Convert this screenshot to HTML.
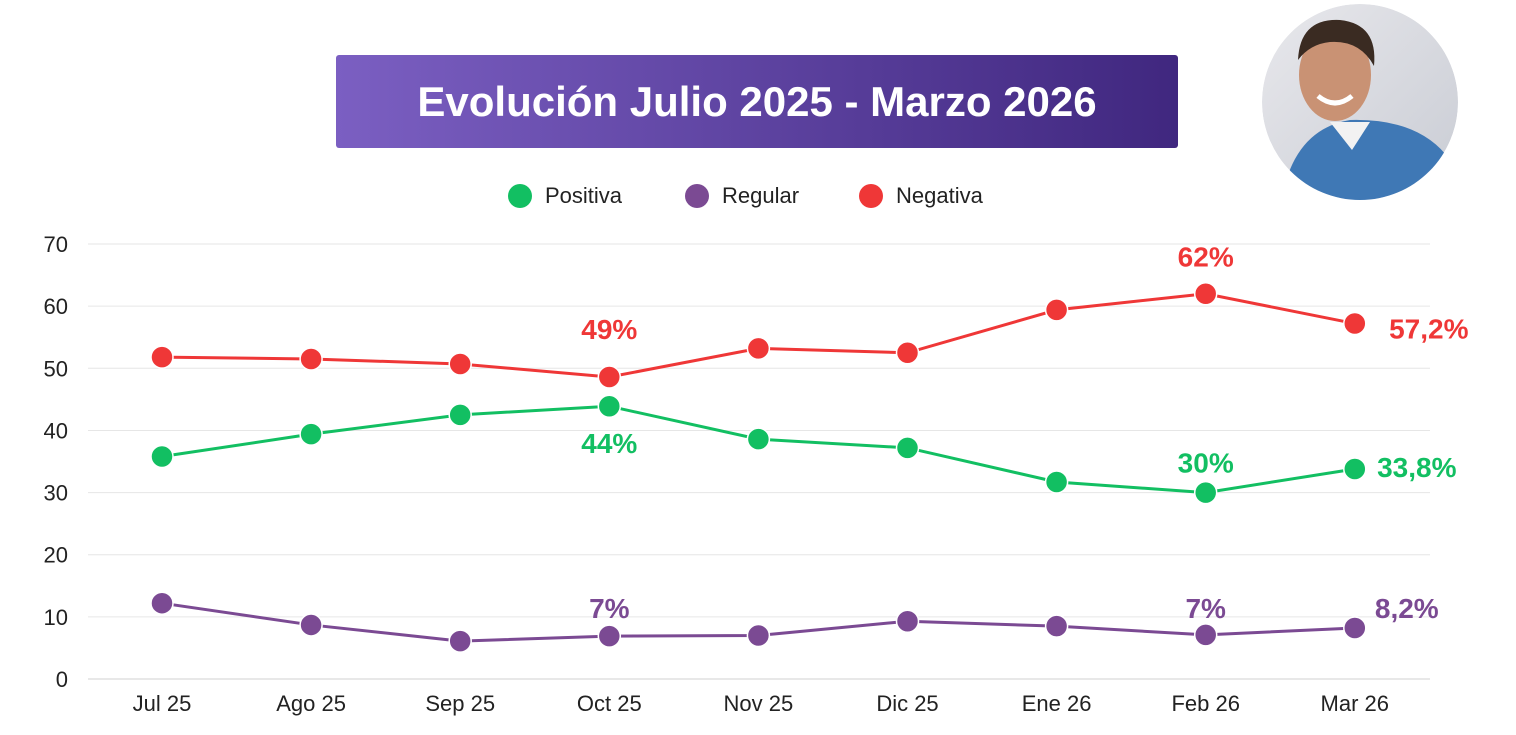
<!DOCTYPE html>
<html><head><meta charset="utf-8"><style>
body{margin:0;background:#fff;width:1516px;height:735px;overflow:hidden;font-family:"Liberation Sans",sans-serif}
svg{display:block}
</style></head><body>
<svg width="1516" height="735">
<defs>
<linearGradient id="tg" x1="0" x2="1"><stop offset="0" stop-color="#7b5fc2"/><stop offset="1" stop-color="#40277f"/></linearGradient>
<linearGradient id="bg" x1="0" y1="0" x2="1" y2="1"><stop offset="0" stop-color="#e8e8ec"/><stop offset="1" stop-color="#c9ccd4"/></linearGradient>
<clipPath id="cp"><circle cx="1360" cy="102" r="98"/></clipPath>
</defs>
<rect x="336" y="55" width="842" height="93" rx="3" fill="url(#tg)"/>
<text x="757" y="116" text-anchor="middle" fill="#fff" font-size="42" font-weight="bold">Evolución Julio 2025 - Marzo 2026</text>
<g clip-path="url(#cp)">
<circle cx="1360" cy="102" r="98" fill="url(#bg)"/>
<path d="M1280 210 Q1290 130 1350 120 Q1420 118 1450 160 L1460 210Z" fill="#3f78b5"/>
<path d="M1330 122 L1352 150 L1370 122Z" fill="#f2f2f2"/>
<ellipse cx="1335" cy="75" rx="36" ry="46" fill="#c99274"/>
<path d="M1298 60 Q1300 18 1340 20 Q1378 24 1374 66 Q1360 40 1330 42 Q1310 44 1298 60Z" fill="#3a2b22"/>
<path d="M1318 96 Q1335 110 1352 96" stroke="#fff" stroke-width="5" fill="none"/>
</g>
<g id="legend" font-size="22" fill="#222">
<circle cx="520" cy="196" r="12" fill="#12bf62"/>
<text x="545" y="203">Positiva</text>
<circle cx="697" cy="196" r="12" fill="#7b4a93"/>
<text x="722" y="203">Regular</text>
<circle cx="871" cy="196" r="12" fill="#ef3737"/>
<text x="896" y="203">Negativa</text>
</g>
<g id="plot"></g>
</svg>
<script>
const categories=["Jul 25","Ago 25","Sep 25","Oct 25","Nov 25","Dic 25","Ene 26","Feb 26","Mar 26"];
const positiva=[35.8,39.4,42.5,43.9,38.6,37.2,31.7,30,33.8];
const regular=[12.2,8.7,6.1,6.9,7,9.3,8.5,7.1,8.2];
const negativa=[51.8,51.5,50.7,48.6,53.2,52.5,59.4,62,57.2];
const yTicks=[0,10,20,30,40,50,60,70];
const labels=[
 {s:"positiva",i:3,t:"44%",dx:0,dy:47},{s:"positiva",i:7,t:"30%",dx:0,dy:-20},{s:"positiva",i:8,t:"33,8%",dx:62,dy:8},
 {s:"negativa",i:3,t:"49%",dx:0,dy:-38},{s:"negativa",i:7,t:"62%",dx:0,dy:-27},{s:"negativa",i:8,t:"57,2%",dx:74,dy:15},
 {s:"regular",i:3,t:"7%",dx:0,dy:-18},{s:"regular",i:7,t:"7%",dx:0,dy:-17},{s:"regular",i:8,t:"8,2%",dx:52,dy:-10}];
const X=i=>162+i*149.1, Y=v=>679-v*6.214;
const ns="http://www.w3.org/2000/svg", g=document.getElementById('plot');
function mk(t,a,txt){const e=document.createElementNS(ns,t);for(const k in a)e.setAttribute(k,a[k]);if(txt!=null)e.textContent=txt;g.appendChild(e);return e;}
yTicks.forEach(v=>{
 const l=mk('line',{x1:88,x2:1430,y1:Y(v),y2:Y(v),stroke:v===0?'#d0d0d0':'#e6e6e6','stroke-width':1});
 
 
 const t=mk('text',{x:68,y:Y(v)+8,'text-anchor':'end','font-size':22,fill:'#222'},v);
 
 
});
categories.forEach((c,i)=>{
 const t=mk('text',{x:X(i),y:711,'text-anchor':'middle','font-size':22,fill:'#222'},c);
 
 
});
const series={positiva:[positiva,'#12bf62'],regular:[regular,'#7b4a93'],negativa:[negativa,'#ef3737']};
for(const k in series){
 const [d,col]=series[k];
 const p=mk('polyline',{points:d.map((v,i)=>X(i)+','+Y(v)).join(' '),fill:'none',stroke:col,'stroke-width':3});
 
 
 d.forEach((v,i)=>{
  const c=mk('circle',{cx:X(i),cy:Y(v),r:11,fill:col,stroke:'#fff','stroke-width':1.5});
  
  
 });
}
labels.forEach(L=>{
 const [d,col]=series[L.s];
 const t=mk('text',{x:X(L.i)+L.dx,y:Y(d[L.i])+L.dy,'text-anchor':'middle','font-size':28,'font-weight':'bold',fill:col},L.t);
 
 
});
</script>
</body></html>
